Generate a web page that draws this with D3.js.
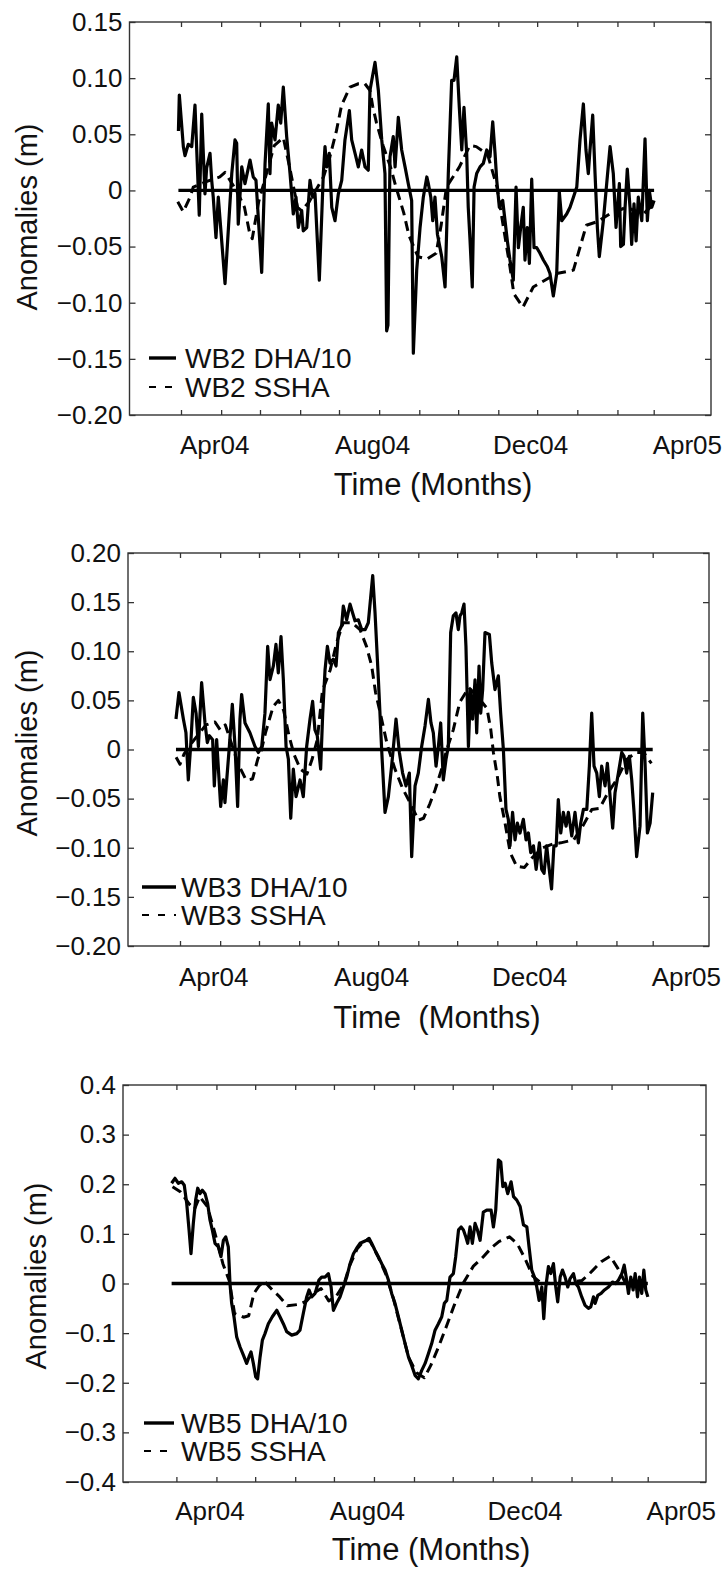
<!DOCTYPE html>
<html>
<head>
<meta charset="utf-8">
<script src="https://cdn.jsdelivr.net/npm/d3@7"></script>
<style>
  body { margin: 0; background: #fff; }
  svg { display: block; font-family: "Liberation Sans", Arial, Helvetica, sans-serif; }
</style>
</head>
<body>
<svg id="chart" width="728" height="1571"></svg>
<script>
// day = days since 2004-03-01, value in metres

const wb2Dha = [[-2,0.053],[-1.3,0.085],[1.8,0.039],[3.1,0.031],[5.6,0.041],[8.3,0.039],[10.8,0.076],[14.1,-0.022],[16,0.068],[18.5,-0.003],[19.8,0.02],[22.4,0.033],[23.7,0.009],[24.9,-0.006],[27,-0.042],[28.8,-0.006],[34,-0.083],[39.2,0.015],[41.7,0.045],[43,0.042],[44.2,-0.03],[46.9,0.021],[49.4,0.006],[53.3,0.027],[55.8,0.012],[57.9,0.009],[62.3,-0.073],[64.9,0.024],[67.4,0.077],[68.7,0.015],[70,0.06],[72.6,0.045],[75.1,0.076],[77,0.06],[79,0.092],[81.6,0.048],[84.2,0.015],[86.7,-0.021],[88.8,-0.006],[90.6,-0.033],[93.2,-0.018],[94.4,-0.036],[97.1,-0.033],[99.6,0.009],[101.7,-0.006],[103.5,-0.003],[106.8,-0.08],[109.9,0.015],[111.2,0.039],[112.5,0.021],[114.5,0.033],[116.4,-0.015],[118.9,-0.027],[121.5,-0.003],[124.1,0.009],[126.6,0.045],[130,0.071],[131.8,0.045],[134.4,0.033],[136.9,0.021],[139.5,0.036],[142.1,0.021],[144.6,0.018],[145.9,0.089],[149.8,0.114],[152.4,0.089],[155,0.045],[157.5,0.015],[158.8,-0.125],[159.8,-0.12],[161.4,0.03],[163.9,0.048],[165.3,0.021],[167.8,0.065],[170.4,0.036],[173,0.021],[175.5,0.006],[178.1,-0.009],[179.4,-0.145],[182,-0.071],[184.6,-0.033],[187.1,-0.006],[189.8,0.012],[191,0.006],[192.9,-0.006],[194.4,-0.027],[196.1,-0.006],[198,-0.039],[201.3,-0.059],[203.9,-0.086],[206.4,0.015],[209,0.098],[210.8,0.098],[212.9,0.119],[214.9,0.074],[216.8,0.036],[218.5,0.074],[220.6,0.033],[221.8,-0.015],[223.2,-0.045],[224.9,-0.086],[226.3,0.003],[228.3,0.015],[230.9,0.021],[233.4,0.024],[236.1,0.036],[238.6,0.03],[240.7,0.061],[242.5,0.033],[243.8,0.009],[245.8,-0.015],[248.4,-0.009],[250.2,-0.027],[252,-0.045],[254,-0.062],[256.6,-0.08],[258.7,0.003],[260.5,-0.051],[262.3,-0.033],[264.3,-0.015],[265.6,-0.062],[267.4,-0.033],[269,-0.065],[270.8,0.01],[272.6,-0.051],[274.7,-0.051],[277.2,-0.056],[279.8,-0.062],[282.9,-0.068],[284.9,-0.074],[287.5,-0.094],[290.1,-0.074],[292.1,-0.001],[294,-0.027],[297.8,-0.021],[300.4,-0.015],[303,-0.006],[305.6,0.003],[308.1,0.045],[310.7,0.077],[312.7,0.036],[314.5,0.015],[315.8,0.036],[317.9,0.067],[319.7,0.015],[321.5,-0.033],[323,-0.059],[326.1,-0.027],[328.7,0.006],[331.3,0.039],[333.8,0.015],[335.9,-0.033],[338.5,0.006],[339.5,-0.05],[341.6,-0.048],[342.9,-0.015],[344.6,0.019],[346.7,-0.015],[348,-0.048],[349.8,-0.012],[351.4,-0.045],[353.1,-0.006],[355.8,-0.027],[358.3,0.046],[360.1,-0.027],[361.6,0],[363.5,-0.015],[365.3,-0.009]];

const wb2Ssha = [[-2.5,-0.01],[1.8,-0.019],[7,-0.006],[9.5,0.003],[20,0.008],[30,0.012],[34,0.016],[40,0.005],[45,-0.005],[49,-0.015],[53,-0.038],[55,-0.043],[60,-0.01],[66,0.015],[72,0.04],[79,0.047],[84,0.02],[90,-0.015],[93,-0.018],[99,-0.01],[104,0.0],[110,0.012],[115,0.03],[120,0.053],[124,0.076],[130.5,0.092],[137,0.095],[142,0.095],[146,0.089],[148,0.075],[151,0.06],[156,0.04],[162,0.02],[166,0.003],[172,-0.02],[176,-0.04],[183,-0.059],[190,-0.061],[197,-0.056],[201,-0.03],[205,0.003],[210,0.012],[215,0.021],[223,0.04],[228,0.039],[233,0.035],[237,0.031],[244,0.003],[249,-0.033],[254,-0.068],[257,-0.092],[264,-0.104],[272,-0.086],[281,-0.08],[290,-0.074],[303,-0.071],[309,-0.047],[313,-0.031],[321,-0.028],[331,-0.021],[344,-0.015],[357,-0.021],[365,-0.012]];

const wb3Dha = [[-3.1,0.031],[-0.8,0.058],[2.6,0.031],[4.6,0.017],[6.4,-0.031],[8.2,0.003],[10.3,0.053],[12.4,0.037],[14.2,0.003],[16.7,0.068],[19.3,0.027],[21.1,0.007],[22.7,0.014],[25.2,0.01],[26.5,-0.037],[28.3,0.01],[31.4,-0.058],[33.5,-0.031],[34.7,-0.054],[38.1,0.003],[40.4,0.046],[42.5,0.003],[44.5,-0.058],[46.3,0.031],[47.6,0.056],[50.2,0.027],[54,0.017],[57.9,0.003],[60.5,-0.003],[63.1,0.003],[65.6,0.037],[67.7,0.105],[69.5,0.071],[72.1,0.085],[74.1,0.107],[75.9,0.078],[78,0.115],[79.8,0.071],[81.9,0.003],[83.7,-0.01],[85.5,-0.07],[87.5,-0.02],[89.6,-0.048],[92.7,-0.031],[95.2,-0.048],[97.8,0.003],[100.4,0.031],[102.4,0.049],[104.2,0.02],[106,0.014],[108.6,-0.02],[110.2,0.037],[112,0.081],[113.8,0.105],[115.8,0.088],[118.4,0.092],[120.5,0.085],[122.3,0.119],[124.8,0.126],[126.1,0.146],[128.7,0.132],[131.3,0.148],[133.3,0.139],[135.1,0.131],[137.7,0.132],[140.3,0.122],[143,0.122],[145.4,0.129],[148.8,0.177],[150.6,0.139],[153.2,0.071],[155.7,0],[158.3,-0.064],[160.9,-0.048],[163.4,-0.017],[166.8,0.031],[169.4,-0.003],[171.9,-0.024],[174.5,-0.037],[177.1,-0.024],[178.9,-0.109],[181.5,-0.037],[184,-0.024],[186.6,0.003],[189.2,0.024],[191.8,0.051],[193.8,0.027],[195.6,0.017],[197.7,-0.017],[199.5,0.003],[201.3,0.027],[203.3,-0.031],[205.4,-0.01],[207.2,0.003],[209,0.119],[211,0.136],[213.1,0.139],[214.9,0.122],[216.2,0.136],[217.5,0.139],[219.3,0.148],[220.8,0.105],[222.7,0.003],[224.3,0.061],[225.9,0.031],[227.8,0.071],[229.1,0.017],[230.9,0.085],[232.2,0.037],[233.7,0.061],[235.5,0.119],[238.9,0.117],[240.7,0.088],[243.2,0.061],[245.8,0.075],[247.6,0.037],[249.7,0],[251.7,-0.061],[253.5,-0.071],[254.8,-0.098],[256.8,-0.064],[258.7,-0.092],[260.5,-0.075],[262.5,-0.085],[265.1,-0.071],[267.2,-0.092],[269,-0.085],[270.8,-0.105],[272.9,-0.098],[275,-0.122],[277.5,-0.095],[279.3,-0.122],[281.1,-0.126],[283.1,-0.098],[285.1,-0.122],[286.9,-0.142],[288.7,-0.098],[290.5,-0.098],[292.1,-0.051],[294,-0.085],[296,-0.064],[298.1,-0.078],[299.9,-0.064],[302.5,-0.088],[305,-0.064],[307.6,-0.095],[309.4,-0.075],[311.5,-0.061],[314.1,-0.061],[316.1,-0.017],[317.9,0.037],[319.7,-0.017],[321.8,-0.024],[323.8,-0.048],[325.6,-0.017],[328.2,-0.037],[330,-0.014],[332.1,-0.048],[334.1,-0.08],[335.9,-0.044],[338.5,-0.024],[341.1,-0.003],[342.9,-0.007],[344.9,-0.024],[347,-0.007],[348.8,-0.031],[350.6,-0.064],[352.6,-0.109],[355.2,-0.078],[357.3,0.037],[359.1,-0.014],[360.9,-0.085],[363,-0.075],[365,-0.044]];

const wb3Ssha = [[-3,-0.008],[0,-0.015],[3,-0.005],[8,0.005],[14,0.015],[20,0.025],[27,0.028],[31,0.02],[35,0.025],[40,0.005],[45,-0.015],[51,-0.031],[56,-0.03],[60,-0.01],[63,0.0],[66,0.017],[72,0.044],[76,0.05],[80,0.04],[84,0.015],[88,-0.005],[93,-0.02],[98,-0.025],[102,-0.01],[106,0.01],[110,0.06],[116,0.081],[121,0.109],[126,0.129],[133,0.129],[139,0.122],[144,0.105],[148,0.085],[151,0.058],[155,0.035],[160,0.005],[166,-0.02],[172,-0.04],[178,-0.055],[184,-0.072],[188,-0.07],[193,-0.055],[197,-0.041],[202,-0.02],[206,0.0],[211,0.02],[216,0.048],[223,0.063],[229,0.055],[237,0.042],[240,0.02],[242,-0.003],[245,-0.027],[247,-0.048],[251,-0.075],[255,-0.105],[260,-0.119],[266,-0.12],[272,-0.11],[280,-0.1],[288,-0.096],[294,-0.095],[304,-0.092],[311,-0.078],[318,-0.061],[324,-0.06],[330,-0.045],[337,-0.031],[345,-0.01],[352,-0.003],[358,-0.003],[364,-0.014]];

const wb5Dha = [[-3.7,0.202],[-1.1,0.212],[1.5,0.202],[4.1,0.205],[6.1,0.198],[8,0.161],[9.8,0.108],[11.3,0.06],[13.1,0.121],[14.9,0.168],[16.5,0.192],[18.3,0.181],[20.1,0.188],[22.2,0.181],[24.2,0.161],[26,0.128],[27.8,0.108],[29.9,0.081],[32.5,0.074],[34.5,0.054],[36.4,0.087],[38.2,0.094],[40.2,0.074],[41.5,0],[42.8,-0.04],[44.6,-0.067],[46.7,-0.108],[49.3,-0.128],[51.8,-0.144],[54.4,-0.161],[56.2,-0.148],[57.8,-0.138],[59.6,-0.161],[61.4,-0.188],[62.9,-0.192],[64.8,-0.148],[66.6,-0.114],[68.6,-0.101],[71.2,-0.081],[74.3,-0.067],[77.7,-0.054],[80.2,-0.067],[82.8,-0.081],[85.4,-0.097],[89.3,-0.104],[93.2,-0.101],[95.7,-0.094],[98.3,-0.06],[100.9,-0.027],[102.7,-0.013],[104.8,-0.027],[107.4,-0.02],[110.4,0.007],[112.5,0.013],[115.1,0.013],[117.7,0.02],[119.8,-0.007],[121.6,-0.054],[124.1,-0.04],[126.7,-0.027],[129.3,-0.007],[131.9,0.013],[134.5,0.04],[137.1,0.06],[139.6,0.071],[142.2,0.081],[144.8,0.084],[147.4,0.087],[149.2,0.091],[151.2,0.081],[153.8,0.067],[156.4,0.054],[159,0.04],[161.6,0.027],[164.2,0.007],[166.7,-0.02],[169.3,-0.04],[171.9,-0.067],[174.5,-0.094],[177.1,-0.121],[179.7,-0.148],[182.2,-0.165],[184.8,-0.185],[187.4,-0.192],[190,-0.175],[192.6,-0.161],[195.2,-0.141],[197.7,-0.121],[200.3,-0.094],[202.9,-0.081],[205.5,-0.067],[207.5,-0.04],[209.4,-0.034],[211.9,0.013],[214.5,0.02],[216.3,0.054],[218.5,0.108],[220.5,0.114],[222.3,0.108],[224.1,0.094],[225.6,0.081],[227.4,0.114],[229.2,0.081],[231.3,0.121],[233.1,0.108],[235.2,0.087],[237.7,0.144],[240.3,0.148],[243.7,0.148],[245.5,0.114],[247.3,0.148],[249.4,0.249],[251.2,0.245],[252.8,0.195],[254.6,0.202],[256.6,0.181],[259.2,0.205],[261.1,0.175],[263.6,0.168],[266.2,0.155],[268.8,0.118],[271.4,0.114],[273.1,0.074],[275.2,0.027],[277.3,0.013],[279.1,-0.007],[280.9,-0.034],[283,-0.007],[284.5,-0.071],[286.1,-0.007],[288.1,0.034],[289.9,0.02],[292,0.04],[293.8,-0.007],[295.3,-0.037],[297.2,0.013],[299,0.027],[301,0.013],[303.1,-0.007],[304.9,0.01],[307.5,0.02],[309.3,0],[311.3,-0.007],[313.9,-0.027],[316.5,-0.044],[319.1,-0.05],[320.9,-0.047],[323,-0.027],[324.3,-0.04],[326.3,-0.024],[328.9,-0.02],[331.5,-0.013],[334.6,-0.007],[337.7,0.003],[340.3,0],[342.4,0.007],[345,0.02],[346.8,0.037],[348.3,0.013],[350.1,-0.02],[351.9,0.013],[353.7,-0.013],[355.3,0.02],[357.1,-0.027],[358.6,0.013],[360.4,-0.02],[362,0.027],[363.5,-0.013],[365.1,-0.027]];

const wb5Ssha = [[-3,0.195],[3,0.185],[10,0.16],[14,0.15],[18,0.175],[24,0.155],[30,0.1],[36,0.04],[41,0.005],[45,-0.06],[52,-0.068],[56,-0.065],[60,-0.02],[64,-0.005],[68,0.005],[74,-0.012],[80,-0.027],[86,-0.045],[95,-0.042],[101,-0.035],[106,-0.02],[112,-0.01],[118,-0.035],[124,-0.025],[130,0.0],[134,0.035],[140,0.07],[146,0.088],[150,0.085],[156,0.055],[162,0.02],[168,-0.03],[174,-0.09],[180,-0.15],[186,-0.18],[192,-0.19],[197,-0.165],[203,-0.128],[209,-0.087],[215,-0.045],[222,0.0],[230,0.035],[237,0.052],[244,0.072],[250,0.085],[258,0.094],[264,0.08],[270,0.05],[276,0.015],[282,0.002],[290,0.0],[300,0.0],[314,0.006],[320,0.02],[329,0.044],[336,0.055],[342,0.03],[347,0.005],[356,0.005],[365,0.002]];

const monthTickRange = ["2004-03-01", "2005-03-02"];
const xLabelDates = ["2004-04-01", "2004-08-01", "2004-12-01", "2005-04-01"];
const xLabelText = ["Apr04", "Aug04", "Dec04", "Apr05"];
const yTicks1 = [-0.2, -0.15, -0.1, -0.05, 0, 0.05, 0.1, 0.15];
const yTicks2 = [-0.2, -0.15, -0.1, -0.05, 0, 0.05, 0.1, 0.15, 0.2];
const yTicks3 = [-0.4, -0.3, -0.2, -0.1, 0, 0.1, 0.2, 0.3, 0.4];
const legend1 = ["WB2 DHA/10", "WB2 SSHA"];
const legend2 = ["WB3 DHA/10", "WB3 SSHA"];
const legend3 = ["WB5 DHA/10", "WB5 SSHA"];

const FONT = '"Liberation Sans", Arial, Helvetica, sans-serif';
const day0 = Date.UTC(2004, 2, 1);
const toDate = d => new Date(day0 + d * 864e5);
const parse = d3.utcParse("%Y-%m-%d");
const monthTicks = d3.utcMonth.range(parse(monthTickRange[0]), parse(monthTickRange[1]));
const labelDates = xLabelDates.map(parse);

const panels = [
    {left: 129.5, right: 711, top: 22, bottom: 415, x0: 181, x1: 655, yDomain: [-0.2, 0.15], yTicks: yTicks1, fmt: ".2f",
     dha: wb2Dha, ssha: wb2Ssha, names: legend1, legY: [358, 387], legX: [149, 176], legText: 185,
     tickLabelY: 445, titleX: 433, titleY: 484, title: "Time (Months)", yLabX: 27, yLabY: 217},
    {left: 128, right: 709, top: 553, bottom: 946, x0: 180, x1: 654, yDomain: [-0.2, 0.2], yTicks: yTicks2, fmt: ".2f",
     dha: wb3Dha, ssha: wb3Ssha, names: legend2, legY: [887, 915], legX: [142, 176], legText: 181,
     tickLabelY: 977, titleX: 437, titleY: 1017, title: "Time  (Months)", yLabX: 27, yLabY: 743},
    {left: 123, right: 706, top: 1085, bottom: 1482, x0: 176.4, x1: 649, yDomain: [-0.4, 0.4], yTicks: yTicks3, fmt: ".1f",
     dha: wb5Dha, ssha: wb5Ssha, names: legend3, legY: [1423, 1451], legX: [144, 174], legText: 181,
     tickLabelY: 1511, titleX: 431, titleY: 1549, title: "Time (Months)", yLabX: 36, yLabY: 1276}
];

const svg = d3.select("#chart");

panels.forEach(p => {
    const x = d3.scaleUtc().domain([toDate(0), toDate(366)]).range([p.x0, p.x1]);
    const y = d3.scaleLinear().domain(p.yDomain).range([p.bottom, p.top]);
    const g = svg.append("g");
    const numFmt = d3.format(p.fmt);

    // box + inward ticks on all four sides
    g.append("rect")
        .attr("x", p.left).attr("y", p.top)
        .attr("width", p.right - p.left).attr("height", p.bottom - p.top)
        .attr("fill", "none").attr("stroke", "#333").attr("stroke-width", 1.4);

    const styleAxis = (sel, size) => {
        sel.attr("font-family", FONT).attr("font-size", size).attr("color", "#333");
        sel.select(".domain").remove();
        sel.selectAll(".tick line").attr("stroke-width", 1.3);
        sel.selectAll("text").attr("fill", "#111");
    };

    g.append("g").attr("transform", `translate(0,${p.bottom})`)
        .call(d3.axisBottom(x).tickValues(monthTicks).tickSize(-5).tickFormat(""))
        .call(s => styleAxis(s, 26));
    g.append("g").attr("transform", `translate(0,${p.top})`)
        .call(d3.axisTop(x).tickValues(monthTicks).tickSize(-5).tickFormat(""))
        .call(s => styleAxis(s, 26));
    g.append("g").attr("transform", `translate(${p.left},0)`)
        .call(d3.axisLeft(y).tickValues(p.yTicks).tickSize(-6).tickPadding(7)
            .tickFormat(d => d === 0 ? "0" : numFmt(d)))
        .call(s => styleAxis(s, 26));
    g.append("g").attr("transform", `translate(${p.right},0)`)
        .call(d3.axisRight(y).tickValues(p.yTicks).tickSize(-6).tickFormat(""))
        .call(s => styleAxis(s, 26));

    // month labels
    g.append("g").attr("transform", `translate(0,${p.bottom})`)
        .call(d3.axisBottom(x).tickValues(labelDates).tickSize(0).tickFormat((d, i) => xLabelText[i]))
        .call(s => styleAxis(s, 26))
        .selectAll("text")
        .attr("y", p.tickLabelY - p.bottom).attr("dy", "0.35em").attr("dx", -7);

    // zero line across the record
    const zero = [[p.dha[0][0], 0], [p.dha[p.dha.length - 1][0], 0]];
    const line = d3.line().x(d => x(toDate(d[0]))).y(d => y(d[1]));

    g.append("path").datum(zero).attr("d", line)
        .attr("fill", "none").attr("stroke", "#000").attr("stroke-width", 3.3);

    g.append("path").datum(p.ssha).attr("d", line)
        .attr("fill", "none").attr("stroke", "#000").attr("stroke-width", 3)
        .attr("stroke-dasharray", "10,6").attr("stroke-linejoin", "round");

    g.append("path").datum(p.dha).attr("d", line)
        .attr("fill", "none").attr("stroke", "#000").attr("stroke-width", 3.2)
        .attr("stroke-linejoin", "round");

    // legend
    g.append("line").attr("x1", p.legX[0]).attr("x2", p.legX[1])
        .attr("y1", p.legY[0]).attr("y2", p.legY[0])
        .attr("stroke", "#000").attr("stroke-width", 3.4);
    g.append("line").attr("x1", p.legX[0]).attr("x2", p.legX[1])
        .attr("y1", p.legY[1]).attr("y2", p.legY[1])
        .attr("stroke", "#000").attr("stroke-width", 1.8).attr("stroke-dasharray", "7,9");
    p.names.forEach((name, i) => {
        g.append("text").attr("x", p.legText).attr("y", p.legY[i])
            .attr("dy", "0.35em").attr("font-family", FONT).attr("font-size", 28)
            .attr("fill", "#111").text(name);
    });

    // axis titles
    g.append("text").attr("x", p.titleX).attr("y", p.titleY)
        .attr("dy", "0.35em").attr("text-anchor", "middle")
        .attr("font-family", FONT).attr("font-size", 31).attr("fill", "#111")
        .style("white-space", "pre").text(p.title);

    g.append("text").attr("transform", `translate(${p.yLabX},${p.yLabY}) rotate(-90)`)
        .attr("dy", "0.35em").attr("text-anchor", "middle")
        .attr("font-family", FONT).attr("font-size", 29).attr("fill", "#111")
        .text("Anomalies (m)");
});
</script>
</body>
</html>
